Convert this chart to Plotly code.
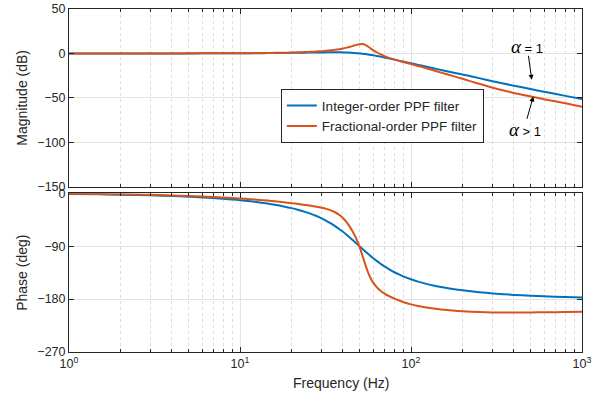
import plotly.graph_objects as go

# ---- data ----
freq_hz = [1, 1.5, 2, 3, 4, 5, 6, 7, 8, 9, 10, 11.5, 13, 14.5, 16, 18, 20, 22, 24, 26,
           28, 30, 32, 34, 36, 38, 40, 42, 44, 46, 48, 50, 52, 54, 56, 58, 60, 63, 66,
           70, 75, 80, 85, 90, 100, 110, 120, 135, 150, 175, 200, 250, 300, 400, 500,
           600, 800, 1000]

mag_integer_db = [0, 0, 0.01, 0.02, 0.03, 0.04, 0.06, 0.08, 0.11, 0.14, 0.17, 0.22, 0.28,
                  0.35, 0.42, 0.52, 0.63, 0.74, 0.85, 0.95, 1.05, 1.14, 1.2, 1.24, 1.25,
                  1.21, 1.14, 1.01, 0.83, 0.6, 0.33, 0.0, -0.37, -0.77, -1.2, -1.66, -2.13,
                  -2.86, -3.6, -4.6, -5.8, -7.0, -8.1, -9.2, -11.1, -12.9, -14.5, -16.7,
                  -18.6, -21.4, -23.8, -27.8, -31.3, -36.3, -40.1, -43.1, -47.8, -51.2]
mag_fractional_db = [0, 0, 0.01, 0.02, 0.04, 0.06, 0.09, 0.12, 0.16, 0.2, 0.25, 0.33, 0.42,
                     0.52, 0.63, 0.8, 1.0, 1.25, 1.5, 1.8, 2.15, 2.55, 3.0, 3.5, 4.1, 4.8,
                     5.6, 6.5, 7.5, 8.6, 9.6, 10.4, 10.6, 9.7, 7.8, 5.7, 3.8, 1.3, -0.8,
                     -3.1, -5.3, -7.0, -8.4, -9.6, -11.9, -14.1, -16.1, -19.0, -21.6, -25.3,
                     -28.6, -34.2, -38.6, -44.5, -48.4, -51.5, -56.2, -60.0]

phase_integer_deg = [-1.2, -1.7, -2.3, -3.4, -4.6, -5.8, -6.9, -8.1, -9.3, -10.5, -11.8,
                     -13.6, -15.5, -17.5, -19.5, -22.3, -25.2, -28.3, -31.5, -35.0, -38.6,
                     -42.5, -46.7, -51.2, -55.8, -60.6, -65.5, -70.5, -75.5, -80.4, -85.2,
                     -90, -94.5, -98.8, -102.8, -106.6, -110.1, -115, -119.4, -124.4,
                     -129.8, -134.3, -138.0, -141.2, -146.3, -150.2, -153.2, -156.8, -159.4,
                     -162.7, -165.1, -168.2, -170.3, -172.8, -174.2, -175.2, -176.4, -177.1]
phase_fractional_deg = [-0.8, -1.2, -1.7, -2.6, -3.5, -4.4, -5.3, -6.1, -7.0, -7.9, -8.8,
                        -10.0, -11.2, -12.4, -13.6, -15.2, -16.7, -18.2, -19.7, -21.2,
                        -22.8, -24.5, -26.5, -29.0, -32.2, -36.5, -42, -49, -57.5, -67, -78,
                        -91, -106, -121, -134, -144, -151.5, -159.5, -165.3, -170.6, -175.5,
                        -179.2, -182.3, -185, -189, -191.8, -193.8, -196, -197.6, -199.4,
                        -200.6, -202, -202.6, -202.8, -202.6, -202.4, -201.9, -201.5]

x_tickvals = [1, 10, 100, 1000]
x_ticktext = ["10<sup>0</sup>", "10<sup>1</sup>", "10<sup>2</sup>", "10<sup>3</sup>"]
mag_ticks = [50, 0, -50, -100, -150]
phase_ticks = [0, -90, -180, -270]

series_names = ["Integer-order PPF filter", "Fractional-order PPF filter"]
blue = "#0072BD"
orange = "#D95319"

fig = go.Figure()
line_style = dict(width=2, shape="spline", smoothing=0.6)
fig.add_trace(go.Scatter(x=freq_hz, y=mag_integer_db, mode="lines", name=series_names[0],
                         line=dict(line_style, color=blue), xaxis="x", yaxis="y"))
fig.add_trace(go.Scatter(x=freq_hz, y=mag_fractional_db, mode="lines", name=series_names[1],
                         line=dict(line_style, color=orange), xaxis="x", yaxis="y"))
fig.add_trace(go.Scatter(x=freq_hz, y=phase_integer_deg, mode="lines", showlegend=False,
                         line=dict(line_style, color=blue), xaxis="x2", yaxis="y2"))
fig.add_trace(go.Scatter(x=freq_hz, y=phase_fractional_deg, mode="lines", showlegend=False,
                         line=dict(line_style, color=orange), xaxis="x2", yaxis="y2"))

font_family = "Liberation Sans, Arial, sans-serif"
grid_col = "#e3e3e3"

common_x = dict(type="log", range=[0, 3], showline=True, linecolor="#262626", linewidth=1,
                mirror="ticks", ticks="inside", ticklen=5, tickcolor="#262626",
                tickvals=x_tickvals, ticktext=x_ticktext, tickfont=dict(size=12.5),
                showgrid=True, gridcolor=grid_col, gridwidth=1, zeroline=False,
                automargin=False,
                minor=dict(ticks="inside", ticklen=3, tickcolor="#262626", dtick="D1",
                           showgrid=True, gridcolor="#dcdcdc", griddash="dot", gridwidth=1))

common_y = dict(showline=True, linecolor="#262626", linewidth=1, mirror="ticks",
                ticks="inside", ticklen=5, tickcolor="#262626", showgrid=True,
                gridcolor=grid_col, gridwidth=1, zeroline=False, tickfont=dict(size=12.5),
                automargin=False)

fig.update_layout(
    width=600, height=394,
    margin=dict(l=69, r=18, t=9, b=42, autoexpand=False),
    paper_bgcolor="white", plot_bgcolor="white",
    font=dict(family=font_family, size=12, color="#262626"),
    xaxis=dict(common_x, domain=[0, 1], anchor="y", showticklabels=False, matches="x2"),
    yaxis=dict(common_y, domain=[0.482, 1], anchor="x", range=[-150, 50],
               tickvals=mag_ticks,
               title=dict(text="Magnitude (dB)", standoff=6, font=dict(size=14))),
    xaxis2=dict(common_x, domain=[0, 1], anchor="y2"),
    yaxis2=dict(common_y, domain=[0, 0.4626], anchor="x2", range=[-270, 0],
                tickvals=phase_ticks,
                title=dict(text="Phase (deg)", standoff=6, font=dict(size=14))),
    legend=dict(x=0.413, y=0.766, xanchor="left", yanchor="top",
                bgcolor="white", bordercolor="#262626", borderwidth=1,
                font=dict(size=13.5, color="#262626"), tracegroupgap=0),
    showlegend=True,
)

# x-axis title (centred as in the reference)
fig.add_annotation(x=0.530, y=-0.0914, xref="paper", yref="paper",
                   text="Frequency (Hz)", showarrow=False, yanchor="middle",
                   font=dict(size=14, color="#262626"))

alpha = "<span style='font-family:Liberation Serif, Times New Roman, serif;font-size:19px'><i>α</i></span>"
# labels
fig.add_annotation(x=2.678, y=7.8, xref="x", yref="y", text=alpha + " = 1",
                   showarrow=False, yanchor="middle", font=dict(size=13, color="black"))
fig.add_annotation(x=2.667, y=-86.1, xref="x", yref="y", text=alpha + " > 1",
                   showarrow=False, yanchor="middle", font=dict(size=13, color="black"))
# arrows
fig.add_annotation(x=2.706, y=-29.7, xref="x", yref="y", text=" ", showarrow=True,
                   arrowhead=2, arrowsize=1, arrowwidth=1, arrowcolor="black",
                   ax=-3.4, ay=-25, standoff=0, startstandoff=0, borderpad=0,
                   font=dict(size=1))
fig.add_annotation(x=2.715, y=-48.5, xref="x", yref="y", text=" ", showarrow=True,
                   arrowhead=2, arrowsize=1, arrowwidth=1, arrowcolor="black",
                   ax=-6.6, ay=23.3, standoff=0, startstandoff=0, borderpad=0,
                   font=dict(size=1))

fig.write_html("out.html")
